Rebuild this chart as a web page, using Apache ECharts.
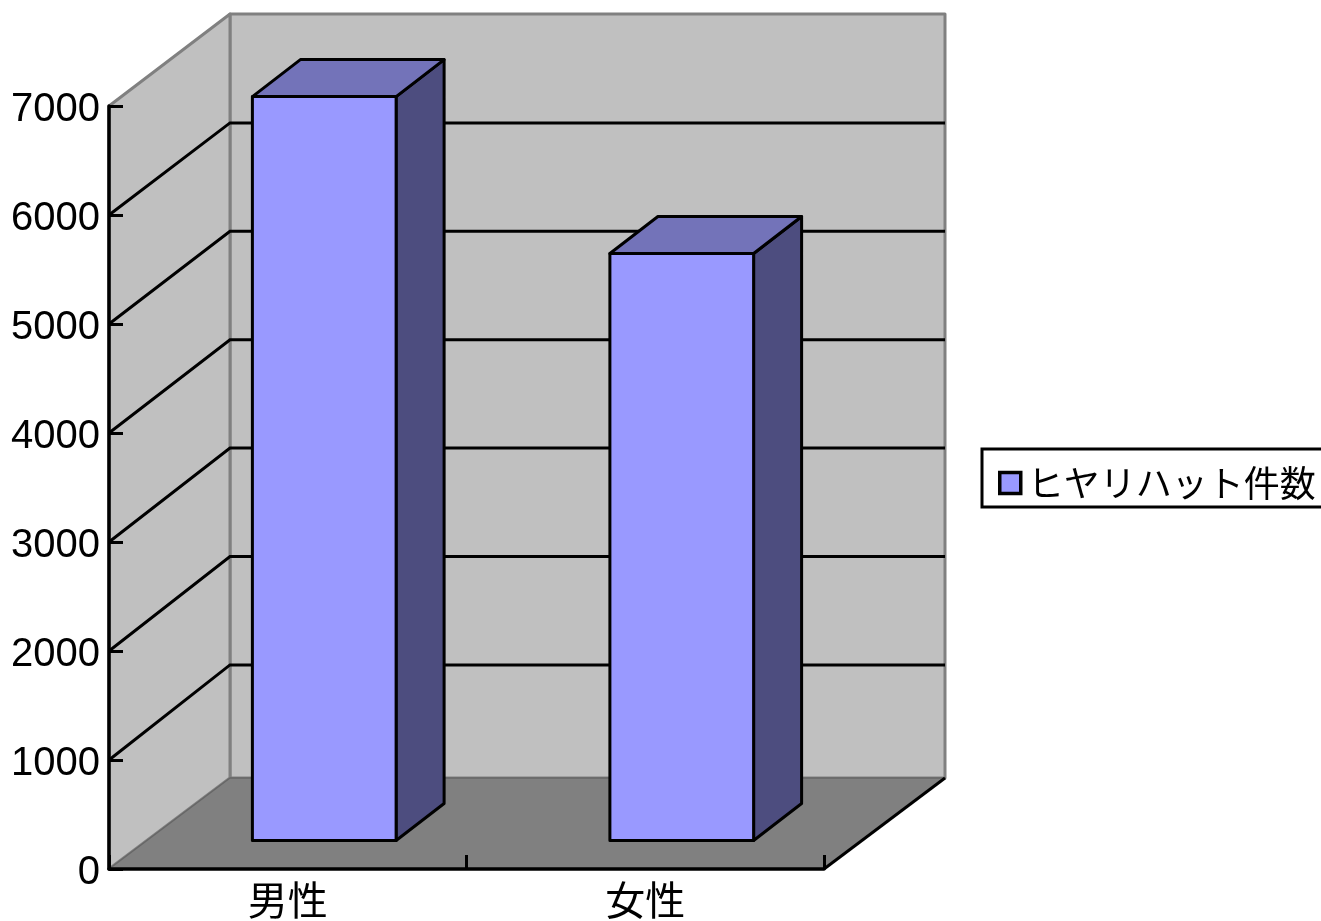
<!DOCTYPE html>
<html>
<head>
<meta charset="utf-8">
<style>html,body{margin:0;padding:0;background:#fff}#c{width:1321px;height:921px}</style>
<script src="https://cdn.jsdelivr.net/npm/echarts@6/dist/echarts.min.js"></script>
</head>
<body>
<div id="c"></div>
<script>
const categories = ['男性', '女性'];
const seriesName = 'ヒヤリハット件数';
const counts = [6825, 5385];
const gridValues = [1000, 2000, 3000, 4000, 5000, 6000];
const yMax = 7000;
const yStep = 1000;

const WALL_DX = 121, WALL_DY_TOP = 92, WALL_DY_BOTTOM = 91;
const BAR_DX = 36.5, BAR_DY = 28.5, DEPTH_DX = 48, DEPTH_DY = 37;
const CJK = '"Noto Sans CJK JP"';
const NUM = '"Liberation Sans"';

function poly(points, fill, stroke, lw) {
  return { type: 'polygon', shape: { points },
    style: { fill, stroke: stroke || 'none', lineWidth: lw || 0, lineJoin: 'round' } };
}

function renderFrame(params) {
  const c = params.coordSys;
  const L = c.x, R = c.x + c.width, T = c.y, B = c.y + c.height;
  const bT = T - WALL_DY_TOP, bB = B - WALL_DY_BOTTOM;
  const wall = '#c0c0c0', edge = '#808080';
  return { type: 'group', children: [
    poly([[L + WALL_DX, bT], [R + WALL_DX, bT], [R + WALL_DX, bB], [L + WALL_DX, bB]], wall, edge, 3),
    poly([[L, T], [L + WALL_DX, bT], [L + WALL_DX, bB], [L, B]], wall, edge, 3),
    poly([[L, B], [R, B], [R + WALL_DX, bB], [L + WALL_DX, bB]], edge, '#666666', 1.5),
    { type: 'line', shape: { x1: R, y1: B, x2: R + WALL_DX, y2: bB }, style: { stroke: '#000', lineWidth: 3 } }
  ] };
}

function renderGrid(params, api) {
  const c = params.coordSys;
  const v = api.value(0);
  const y = api.coord([0, v])[1];
  const by = y - 91.5 - (yMax - v) * 0.0006;
  const L = c.x, R = c.x + c.width;
  return { type: 'group', children: [
    { type: 'polyline', shape: { points: [[L, y], [L + WALL_DX, by], [R + WALL_DX, by]] },
      style: { stroke: '#000', lineWidth: 3, fill: 'none' } }
  ] };
}

function renderBar(params, api) {
  const p = api.coord([api.value(0), api.value(1)]);
  const base = api.coord([api.value(0), 0]);
  const w = api.size([1, 0])[0] * 0.402;
  const x0 = p[0] + BAR_DX - w / 2, x1 = x0 + w;
  const yt = p[1] - BAR_DY, yb = base[1] - BAR_DY;
  const s = '#000', lw = 3;
  return { type: 'group', children: [
    poly([[x1, yt], [x1 + DEPTH_DX, yt - DEPTH_DY], [x1 + DEPTH_DX, yb - DEPTH_DY], [x1, yb]], '#4d4d7f', s, lw),
    poly([[x0, yt], [x0 + DEPTH_DX, yt - DEPTH_DY], [x1 + DEPTH_DX, yt - DEPTH_DY], [x1, yt]], '#7373b9', s, lw),
    poly([[x0, yt], [x1, yt], [x1, yb], [x0, yb]], '#9999ff', s, lw)
  ] };
}

const chart = echarts.init(document.getElementById('c'), null, { renderer: 'canvas' });
chart.setOption({
  animation: false,
  backgroundColor: '#ffffff',
  grid: { left: 109, top: 106, width: 715, height: 763, containLabel: false },
  legend: {
    data: [{ name: seriesName, icon: 'rect',
      itemStyle: { color: '#9999ff', borderColor: '#000', borderWidth: 3.5 } }],
    left: 982, top: 449, orient: 'vertical',
    padding: [16, 20, 6, 16], itemGap: 0, itemWidth: 21, itemHeight: 21,
    borderColor: '#000', borderWidth: 3, backgroundColor: '#fff',
    textStyle: { fontFamily: CJK, fontSize: 36, lineHeight: 36, color: '#000', padding: [0, 0, 0, 2] }
  },
  xAxis: {
    type: 'category', data: categories, z: 10,
    axisLine: { show: true, lineStyle: { color: '#000', width: 3.5 } },
    axisTick: { show: true, inside: true, length: 14, alignWithLabel: false, lineStyle: { color: '#000', width: 3 } },
    axisLabel: { fontFamily: CJK, fontSize: 40, color: '#000', margin: 11 },
    splitLine: { show: false }
  },
  yAxis: {
    type: 'value', min: 0, max: yMax, interval: yStep, z: 10,
    axisLine: { show: true, onZero: false, lineStyle: { color: '#000', width: 3.5 } },
    axisTick: { show: true, inside: true, length: 14, lineStyle: { color: '#000', width: 3 } },
    axisLabel: { fontFamily: NUM, fontSize: 40, color: '#000', margin: 9, verticalAlign: 'top', lineHeight: 8,
      formatter: function (v) { return String(v); } },
    splitLine: { show: false }
  },
  series: [
    { type: 'custom', name: 'frame', silent: true, z: 1, clip: false, data: [0], renderItem: renderFrame },
    { type: 'custom', name: 'grid', silent: true, z: 2, clip: false, data: gridValues, encode: { y: 0 }, renderItem: renderGrid },
    { type: 'custom', name: seriesName, z: 3, clip: false,
      itemStyle: { color: '#9999ff' },
      data: counts.map((v, i) => [i, v]), encode: { x: 0, y: 1 }, renderItem: renderBar }
  ]
});
</script>
</body>
</html>
